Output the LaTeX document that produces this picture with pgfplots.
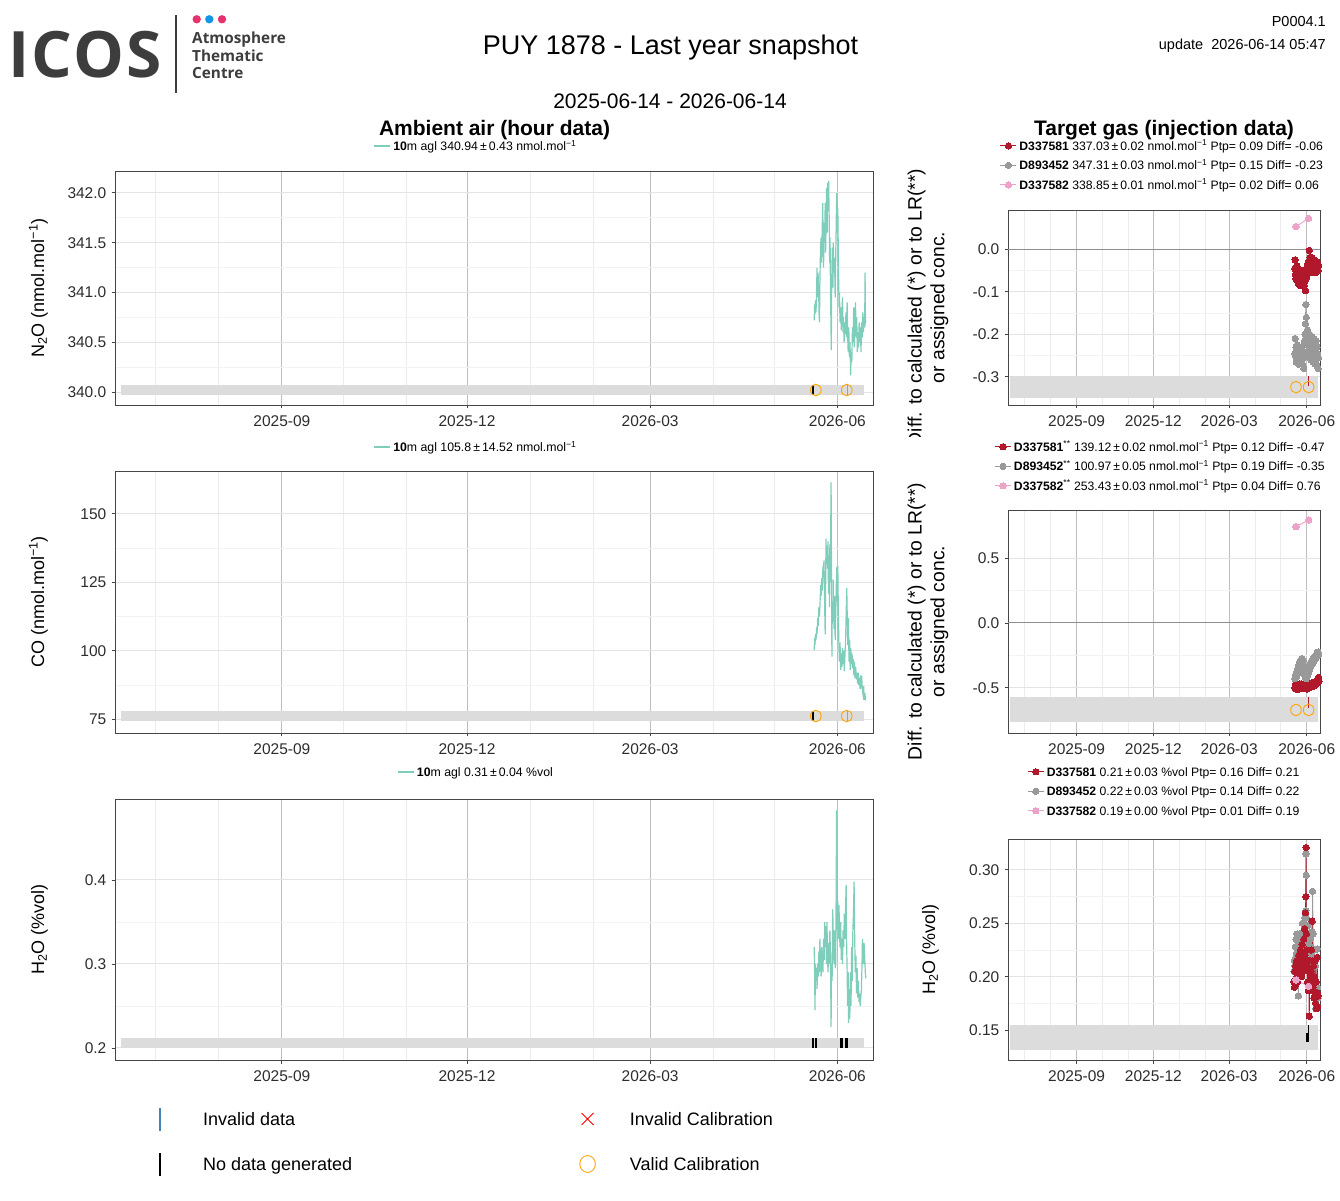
\documentclass[border=0pt]{standalone}
\usepackage{pgfplots}
\pgfplotsset{compat=1.18}
\usepackage{fontspec}
\setmainfont{Liberation Sans}
\newfontfamily\logofont{Open Sans}

\definecolor{teal1}{RGB}{127,205,187}
\definecolor{tred}{RGB}{178,24,43}
\definecolor{tgrey}{RGB}{153,153,153}
\definecolor{tpink}{RGB}{236,162,201}
\definecolor{bandc}{RGB}{220,220,220}
\definecolor{framec}{RGB}{70,70,70}
\definecolor{tickc}{RGB}{45,45,45}
\definecolor{vmaj}{RGB}{190,190,190}
\definecolor{vmin}{RGB}{236,236,236}
\definecolor{hmaj}{RGB}{228,228,228}
\definecolor{hmin}{RGB}{243,243,243}
\definecolor{zeroc}{RGB}{140,140,140}
\definecolor{calorange}{RGB}{255,165,0}
\definecolor{icospink}{RGB}{232,50,110}
\definecolor{icosblue}{RGB}{20,150,230}
\definecolor{logogrey}{RGB}{61,61,61}
\definecolor{steel}{RGB}{70,130,180}
\definecolor{invline}{RGB}{110,180,200}

\pgfplotsset{
 panel/.style={
   scale only axis, anchor=south west,
   axis line style={draw=framec, line width=0.9pt},
   tick align=outside, major tick length=3.5pt, minor tick length=0pt,
   xtick pos=left, ytick pos=left,
   tick style={draw=framec, line width=0.9pt},
   xtick={79,170,260,352}, xticklabels={2025-09,2025-12,2026-03,2026-06},
   minor xtick={17,48,109,140,201,232,291,321},
   minor y tick num=1,
   grid=both,
   major x grid style={draw=vmaj, line width=1pt},
   minor x grid style={draw=vmin, line width=0.7pt},
   major y grid style={draw=hmaj, line width=1pt},
   minor y grid style={draw=hmin, line width=0.7pt},
   scaled ticks=false,
   /pgf/number format/assume math mode=true,
   ticklabel style={font=\fontsize{15.5}{16}\selectfont, text=tickc},
   xticklabel style={anchor=north, inner sep=0pt, text height=11pt, text depth=0pt, yshift=-6.5pt},
   yticklabel style={anchor=east, inner sep=0pt, text height=11pt, text depth=0pt, xshift=-5pt},
   legend cell align=left,
 },
 left panel/.style={panel, width=758pt, xmin=-3, xmax=369.5,
   legend image code/.code={\draw[##1] (0pt,0pt) -- (16pt,0pt);},
   legend style={anchor=center, draw=none, fill=none, inner sep=0pt, outer sep=0pt,
     font=\fontsize{12.3}{13}\selectfont, nodes={inner sep=0pt, text height=8.8pt, text depth=0pt},
     /tikz/every odd column/.style={column sep=2.5pt}}},
 right panel/.style={panel, width=312pt, xmin=-2.5, xmax=367.8,
   legend image code/.code={\draw[mark repeat=2,mark phase=2,##1] plot coordinates {(0pt,0pt) (8pt,0pt) (16pt,0pt)};},
   legend style={anchor=center, draw=none, fill=none, inner sep=0pt, outer sep=0pt, row sep=10.5pt,
     font=\fontsize{12.2}{13}\selectfont, nodes={inner sep=0pt, text height=9pt, text depth=0pt},
     /tikz/every odd column/.style={column sep=2.5pt}}},
 amb/.style={teal1, line width=1.2pt},
 tg/.style={#1, line width=0.9pt, mark=*, mark size=3.2pt, mark options={solid, fill=#1, draw=#1, line width=0pt}},
 cal/.style={forget plot, only marks, mark=o, mark size=5.3pt, calorange, mark options={line width=0.9pt, yscale=1.1}},
}

\begin{document}
\begin{tikzpicture}
\path[use as bounding box] (0pt,0pt) rectangle (1340pt,1200pt);

% ---------- header ----------
\fill[icospink] (196.7pt,1180.7pt) circle (4.2pt);
\fill[icosblue] (209.3pt,1180.7pt) circle (4.2pt);
\fill[icospink] (222pt,1180.7pt) circle (4.2pt);
\draw[logogrey, line width=2pt] (176pt,1185pt) -- (176pt,1107pt);
\node[anchor=base west, inner sep=0pt, text=logogrey, font=\logofont\bfseries\fontsize{64}{64}\selectfont] at (8pt,1122pt) {I\kern1.8pt C\kern1.8pt O\kern1.8pt S};
\node[anchor=north west, inner sep=0pt, text=logogrey, text width=130pt, align=left,
  font=\logofont\bfseries\fontsize{15.3}{17.4}\selectfont] at (192pt,1168.2pt) {Atmosphere\\Thematic\\Centre};

\node[anchor=base, inner sep=0pt, font=\fontsize{27}{27}\selectfont] at (670.5pt,1145.3pt) {PUY 1878 - Last year snapshot};
\node[anchor=base, inner sep=0pt, font=\fontsize{21}{21}\selectfont] at (670pt,1091.5pt) {2025-06-14 - 2026-06-14};
\node[anchor=base east, inner sep=0pt, font=\fontsize{14.5}{15}\selectfont] at (1326pt,1173.8pt) {P0004.1};
\node[anchor=base east, inner sep=0pt, font=\fontsize{14.5}{15}\selectfont] at (1326pt,1150.8pt) {update\ \ 2026-06-14 05:47};

\node[anchor=base, inner sep=0pt, font=\bfseries\fontsize{21}{21}\selectfont] at (494.5pt,1064.5pt) {Ambient air (hour data)};
\node[anchor=base, inner sep=0pt, font=\bfseries\fontsize{21}{21}\selectfont] at (1164pt,1064.5pt) {Target gas (injection data)};

% ---------- axis titles ----------
\node[rotate=90, anchor=base, inner sep=0pt, font=\fontsize{18}{20}\selectfont] at (44pt,912pt) {N\textsubscript{2}O (nmol.mol\textsuperscript{−1})};
\node[rotate=90, anchor=base, inner sep=0pt, font=\fontsize{18}{20}\selectfont] at (44pt,598pt) {CO (nmol.mol\textsuperscript{−1})};
\node[rotate=90, anchor=base, inner sep=0pt, font=\fontsize{18}{20}\selectfont] at (44pt,270.5pt) {H\textsubscript{2}O (\%vol)};
\begin{scope}
\clip (880pt,763pt) rectangle (970pt,1100pt);
\node[rotate=90, anchor=base, inner sep=0pt, font=\fontsize{19.3}{20}\selectfont] at (921.7pt,892.5pt) {Diff. to calculated (*) or to LR(**)};
\end{scope}
\node[rotate=90, anchor=base, inner sep=0pt, font=\fontsize{19.3}{20}\selectfont] at (944.3pt,892.5pt) {or assigned conc.};
\node[rotate=90, anchor=base, inner sep=0pt, font=\fontsize{19.3}{20}\selectfont] at (921.7pt,578.5pt) {Diff. to calculated (*) or to LR(**)};
\node[rotate=90, anchor=base, inner sep=0pt, font=\fontsize{19.3}{20}\selectfont] at (944.3pt,578.5pt) {or assigned conc.};
\node[rotate=90, anchor=base, inner sep=0pt, font=\fontsize{18}{20}\selectfont] at (935pt,250.5pt) {H\textsubscript{2}O (\%vol)};

% ================= LEFT N2O =================
\begin{axis}[left panel, at={(115pt,795pt)}, height=234pt, ymin=339.87, ymax=342.22,
  ytick={340,340.5,341,341.5,342},
  yticklabel style={/pgf/number format/.cd, fixed, fixed zerofill, precision=1},
  legend style={at={(0.475,1.1068)}}]
\addplot[forget plot, bandc, line width=10pt] coordinates {(0,340.02) (365,340.02)};
\addplot[amb] coordinates {
(340.6,340.72)(340.8,340.88)(341.0,340.78)(341.2,340.92)(341.5,340.80)(341.8,341.05)(342.0,341.25)(342.2,340.95)
(342.5,341.20)(342.8,341.00)(343.0,340.78)(343.2,340.70)(343.4,341.10)(343.7,341.45)(344.0,341.55)(344.2,341.30)
(344.5,341.60)(344.8,341.90)(345.0,341.45)(345.2,341.25)(345.5,341.70)(345.8,341.55)(346.0,341.90)(346.2,341.40)
(346.5,341.75)(346.7,342.05)(347.0,341.60)(347.2,342.10)(347.5,341.85)(347.7,342.12)(348.0,341.70)(348.2,341.30)
(348.4,341.55)(348.6,341.00)(348.8,340.75)(349.0,340.42)(349.2,341.10)(349.5,341.45)(349.8,341.05)(350.0,341.50)
(350.3,341.20)(350.6,341.35)(350.9,340.95)(351.2,341.40)(351.5,341.80)(351.7,342.00)(352.0,341.60)(352.2,341.85)
(352.5,341.30)(352.8,340.85)(353.0,341.00)(353.3,340.70)(353.6,340.85)(353.9,340.62)(354.2,340.80)(354.5,340.95)
(354.8,340.60)(355.0,340.75)(355.3,340.50)(355.6,340.70)(355.9,340.58)(356.2,340.80)(356.5,340.55)(356.8,340.90)
(357.0,340.60)(357.3,340.40)(357.6,340.65)(357.9,340.35)(358.2,340.50)(358.5,340.17)(358.8,340.40)(359.1,340.30)
(359.4,340.65)(359.7,340.50)(360.0,340.85)(360.3,340.45)(360.6,340.70)(360.9,340.90)(361.2,340.55)(361.5,340.75)
(361.8,340.40)(362.1,340.60)(362.4,340.45)(362.7,340.70)(363.0,340.50)(363.3,340.65)(363.6,340.40)(363.9,340.70)
(364.2,340.55)(364.5,340.80)(364.8,340.60)(365.1,340.75)(365.4,340.65)(365.6,341.20)(365.8,340.70)(366.0,340.72)};
\addlegendentry{\textbf{10}m agl 340.94\,±\,0.43 nmol.mol\textsuperscript{−1}}
\addplot[forget plot, black, line width=2.5pt] coordinates {(339.9,339.97) (339.9,340.07)};
\addplot[forget plot, invline, line width=0.8pt] coordinates {(357,339.97) (357,340.07)};
\addplot[cal] coordinates {(341.4,340.02) (356.6,340.02)};
\end{axis}

% ================= LEFT CO =================
\begin{axis}[left panel, at={(115pt,467pt)}, height=262pt, ymin=69.9, ymax=165.7,
  ytick={75,100,125,150},
  legend style={at={(0.475,1.0916)}}]
\addplot[forget plot, bandc, line width=10pt] coordinates {(0,76.1) (365,76.1)};
\addplot[amb] coordinates {
(340.6,100.2)(340.8,104.5)(341.0,102.0)(341.2,106.0)(341.5,104.0)(341.8,108.5)(342.0,106.0)(342.3,112.0)
(342.6,109.0)(342.9,116.0)(343.2,112.5)(343.5,118.0)(343.8,124.0)(344.0,120.0)(344.3,126.5)(344.6,122.0)
(344.9,131.0)(345.1,128.0)(345.4,133.0)(345.6,124.0)(345.8,114.0)(346.0,106.0)(346.2,122.0)(346.4,141.0)
(346.6,134.0)(346.9,138.5)(347.1,130.0)(347.4,140.0)(347.6,121.0)(347.9,132.0)(348.1,116.0)(348.3,139.0)
(348.5,125.0)(348.7,142.0)(348.9,161.5)(349.1,128.0)(349.3,97.8)(349.5,118.0)(349.8,112.0)(350.0,126.0)
(350.3,108.0)(350.6,120.0)(350.9,104.0)(351.2,114.0)(351.5,125.0)(351.7,130.5)(352.0,118.0)(352.2,131.0)
(352.5,112.0)(352.8,100.0)(353.0,96.0)(353.3,103.0)(353.6,93.0)(353.9,99.0)(354.2,94.0)(354.5,101.0)
(354.8,95.0)(355.1,100.0)(355.4,92.5)(355.7,98.0)(356.0,103.0)(356.3,113.0)(356.6,123.0)(356.9,110.0)
(357.1,102.0)(357.4,112.0)(357.7,96.0)(358.0,104.0)(358.3,93.0)(358.6,101.0)(358.9,95.0)(359.2,99.0)
(359.5,93.5)(359.8,97.0)(360.1,91.0)(360.4,96.0)(360.7,90.0)(361.0,94.0)(361.3,89.5)(361.6,92.0)
(361.9,88.0)(362.2,92.0)(362.5,87.5)(362.8,90.0)(363.1,86.0)(363.4,91.0)(363.7,88.0)(364.0,89.5)
(364.3,85.5)(364.6,84.0)(364.9,87.0)(365.2,82.0)(365.5,84.5)(365.8,82.5)(366.0,83.0)};
\addlegendentry{\textbf{10}m agl 105.8\,±\,14.52 nmol.mol\textsuperscript{−1}}
\addplot[forget plot, black, line width=2.5pt] coordinates {(339.9,74.3) (339.9,77.9)};
\addplot[forget plot, invline, line width=0.8pt] coordinates {(357,74.3) (357,77.9)};
\addplot[cal] coordinates {(341.4,76.1) (356.6,76.1)};
\end{axis}

% ================= LEFT H2O =================
\begin{axis}[left panel, at={(115pt,140pt)}, height=261pt, ymin=0.1857, ymax=0.4964,
  ytick={0.2,0.3,0.4},
  yticklabel style={/pgf/number format/.cd, fixed, fixed zerofill, precision=1},
  legend style={at={(0.475,1.1034)}}]
\addplot[forget plot, bandc, line width=10pt] coordinates {(0,0.206) (365,0.206)};
\addplot[amb] coordinates {
(340.6,0.320)(340.8,0.290)(341.0,0.245)(341.2,0.300)(341.5,0.280)(341.8,0.295)(342.0,0.270)(342.3,0.300)
(342.6,0.285)(342.9,0.315)(343.1,0.290)(343.4,0.330)(343.7,0.300)(344.0,0.285)(344.3,0.320)(344.6,0.300)
(344.9,0.290)(345.2,0.330)(345.5,0.305)(345.8,0.350)(346.0,0.320)(346.3,0.345)(346.6,0.300)(346.9,0.350)
(347.1,0.310)(347.4,0.290)(347.7,0.325)(348.0,0.300)(348.3,0.340)(348.6,0.310)(348.9,0.225)(349.1,0.300)
(349.4,0.280)(349.7,0.365)(350.0,0.330)(350.3,0.300)(350.6,0.340)(350.9,0.295)(351.2,0.300)(351.4,0.390)
(351.6,0.483)(351.8,0.420)(352.0,0.340)(352.2,0.375)(352.5,0.330)(352.8,0.370)(353.0,0.340)(353.3,0.320)
(353.6,0.350)(353.9,0.305)(354.2,0.330)(354.5,0.300)(354.8,0.340)(355.1,0.320)(355.4,0.360)(355.7,0.330)
(356.0,0.365)(356.3,0.394)(356.5,0.330)(356.8,0.290)(357.0,0.250)(357.3,0.290)(357.5,0.230)(357.8,0.270)
(358.1,0.235)(358.4,0.290)(358.7,0.250)(359.0,0.320)(359.3,0.280)(359.6,0.340)(359.9,0.360)(360.2,0.398)
(360.5,0.330)(360.8,0.290)(361.1,0.310)(361.4,0.265)(361.7,0.295)(362.0,0.260)(362.3,0.280)(362.6,0.255)
(362.9,0.265)(363.2,0.250)(363.5,0.260)(363.8,0.270)(364.1,0.300)(364.3,0.330)(364.5,0.320)(364.8,0.300)
(365.1,0.325)(365.4,0.310)(365.7,0.290)(366.0,0.283)};
\addlegendentry{\textbf{10}m agl 0.31\,±\,0.04 \%vol}
\addplot[forget plot, black, line width=2.2pt] coordinates {(340.1,0.2) (340.1,0.212)};
\addplot[forget plot, black, line width=2.2pt] coordinates {(341.6,0.2) (341.6,0.212)};
\addplot[forget plot, black, line width=2.8pt] coordinates {(354.0,0.2) (354.0,0.212)};
\addplot[forget plot, black, line width=2.8pt] coordinates {(356.5,0.2) (356.5,0.212)};
\end{axis}

% ================= RIGHT N2O =================
\begin{axis}[right panel, at={(1008pt,795pt)}, height=195pt, ymin=-0.366, ymax=0.092,
  ytick={-0.3,-0.2,-0.1,0},
  yticklabel style={/pgf/number format/.cd, fixed, fixed zerofill, precision=1},
  legend style={at={(0.492,1.229)}}]
\addplot[forget plot, bandc, line width=22pt] coordinates {(0,-0.324) (365,-0.324)};
\addplot[forget plot, zeroc, line width=1pt] coordinates {(-10,0) (380,0)};
\addplot[tg=tred] coordinates {
(338.0,-0.045)(338.3,-0.025)(338.6,-0.060)(339.0,-0.050)(339.4,-0.070)(339.8,-0.055)(340.2,-0.065)(340.6,-0.040)
(341.0,-0.075)(341.4,-0.060)(341.8,-0.050)(342.2,-0.080)(342.6,-0.065)(343.0,-0.055)(343.4,-0.070)(343.8,-0.085)
(344.2,-0.060)(344.6,-0.075)(345.0,-0.050)(345.4,-0.065)(345.8,-0.080)(346.2,-0.055)(346.6,-0.070)(347.0,-0.060)
(347.5,-0.075)(348.0,-0.050)(348.5,-0.065)(349.0,-0.085)(349.5,-0.060)(350.0,-0.075)(350.5,-0.097)(351.0,-0.070)
(351.5,-0.055)(352.0,-0.045)(352.5,-0.060)(353.0,-0.035)(353.5,-0.050)(354.0,-0.030)(354.5,-0.045)(355.0,-0.003)
(355.5,-0.030)(356.0,-0.020)(356.5,-0.040)(357.0,-0.025)(357.5,-0.050)(358.0,-0.035)(358.5,-0.020)(359.0,-0.045)
(359.5,-0.030)(360.0,-0.055)(360.5,-0.035)(361.0,-0.025)(361.5,-0.045)(362.0,-0.030)(362.5,-0.040)(363.0,-0.055)
(363.5,-0.035)(364.0,-0.045)(364.5,-0.030)(365.0,-0.040)(365.5,-0.050)(366.0,-0.038)};
\addlegendentry{\textbf{D337581} 337.03\,±\,0.02 nmol.mol\textsuperscript{−1} Ptp= 0.09 Diff= -0.06}
\addplot[tg=tgrey] coordinates {
(338.0,-0.245)(338.4,-0.210)(338.8,-0.250)(339.2,-0.230)(339.6,-0.265)(340.0,-0.240)(340.5,-0.255)(341.0,-0.225)
(341.5,-0.260)(342.0,-0.245)(342.5,-0.270)(343.0,-0.235)(343.5,-0.255)(344.0,-0.240)(344.5,-0.265)(345.0,-0.250)
(345.5,-0.230)(346.0,-0.260)(346.5,-0.245)(347.0,-0.270)(347.5,-0.240)(348.0,-0.255)(348.5,-0.280)(349.0,-0.250)
(349.5,-0.215)(350.0,-0.200)(350.5,-0.175)(351.0,-0.130)(351.5,-0.160)(352.0,-0.200)(352.5,-0.225)(353.0,-0.190)
(353.5,-0.240)(354.0,-0.210)(354.5,-0.250)(355.0,-0.225)(355.5,-0.200)(356.0,-0.240)(356.5,-0.215)(357.0,-0.260)
(357.5,-0.230)(358.0,-0.205)(358.5,-0.245)(359.0,-0.220)(359.5,-0.265)(360.0,-0.235)(360.5,-0.210)(361.0,-0.250)
(361.5,-0.225)(362.0,-0.270)(362.5,-0.240)(363.0,-0.215)(363.5,-0.255)(364.0,-0.230)(364.5,-0.275)(365.0,-0.245)
(365.5,-0.280)(366.0,-0.255)};
\addlegendentry{\textbf{D893452} 347.31\,±\,0.03 nmol.mol\textsuperscript{−1} Ptp= 0.15 Diff= -0.23}
\addplot[tg=tpink] coordinates {(339.3,0.053) (354.3,0.0725)};
\addlegendentry{\textbf{D337582} 338.85\,±\,0.01 nmol.mol\textsuperscript{−1} Ptp= 0.02 Diff= 0.06}
\addplot[forget plot, tred, line width=1.2pt] coordinates {(353.8,-0.298) (353.8,-0.322)};
\addplot[cal] coordinates {(339.3,-0.324) (354.3,-0.324)};
\end{axis}

% ================= RIGHT CO =================
\begin{axis}[right panel, at={(1008pt,467pt)}, height=223pt, ymin=-0.85, ymax=0.873,
  ytick={-0.5,0,0.5},
  yticklabel style={/pgf/number format/.cd, fixed, fixed zerofill, precision=1},
  legend style={at={(0.486,1.196)}}]
\addplot[forget plot, bandc, line width=25pt] coordinates {(0,-0.672) (365,-0.672)};
\addplot[forget plot, zeroc, line width=1pt] coordinates {(-10,0) (380,0)};
\addplot[tg=tred] coordinates {
(338.0,-0.500)(338.4,-0.485)(338.8,-0.510)(339.2,-0.495)(339.6,-0.480)(340.0,-0.505)(340.5,-0.490)(341.0,-0.515)
(341.5,-0.495)(342.0,-0.480)(342.5,-0.500)(343.0,-0.490)(343.5,-0.470)(344.0,-0.495)(344.5,-0.505)(345.0,-0.485)
(345.5,-0.470)(346.0,-0.495)(346.5,-0.480)(347.0,-0.500)(347.5,-0.475)(348.0,-0.490)(348.5,-0.505)(349.0,-0.485)
(349.5,-0.470)(350.0,-0.495)(350.5,-0.480)(351.0,-0.500)(351.5,-0.490)(352.0,-0.510)(352.5,-0.485)(353.0,-0.495)
(353.5,-0.475)(354.0,-0.500)(354.5,-0.485)(355.0,-0.470)(355.5,-0.490)(356.0,-0.475)(356.5,-0.495)(357.0,-0.480)
(357.5,-0.465)(358.0,-0.485)(358.5,-0.470)(359.0,-0.490)(359.5,-0.475)(360.0,-0.460)(360.5,-0.480)(361.0,-0.470)
(361.5,-0.485)(362.0,-0.465)(362.5,-0.475)(363.0,-0.455)(363.5,-0.470)(364.0,-0.450)(364.5,-0.465)(365.0,-0.440)
(365.5,-0.460)(366.0,-0.420)(366.5,-0.450)};
\addlegendentry{\textbf{D337581}\textsuperscript{**} 139.12\,±\,0.02 nmol.mol\textsuperscript{−1} Ptp= 0.12 Diff= -0.47}
\addplot[tg=tgrey] coordinates {
(338.0,-0.430)(338.5,-0.410)(339.0,-0.395)(339.5,-0.420)(340.0,-0.380)(340.5,-0.400)(341.0,-0.360)(341.5,-0.385)
(342.0,-0.340)(342.5,-0.365)(343.0,-0.320)(343.5,-0.345)(344.0,-0.300)(344.5,-0.330)(345.0,-0.290)(345.5,-0.310)
(346.0,-0.275)(346.5,-0.300)(347.0,-0.280)(347.5,-0.320)(348.0,-0.290)(348.5,-0.340)(349.0,-0.370)(349.5,-0.400)
(350.0,-0.380)(350.5,-0.420)(351.0,-0.395)(351.5,-0.430)(352.0,-0.405)(352.5,-0.380)(353.0,-0.410)(353.5,-0.370)
(354.0,-0.390)(354.5,-0.350)(355.0,-0.370)(355.5,-0.330)(356.0,-0.350)(356.5,-0.310)(357.0,-0.335)(357.5,-0.300)
(358.0,-0.320)(358.5,-0.290)(359.0,-0.310)(359.5,-0.275)(360.0,-0.300)(360.5,-0.270)(361.0,-0.290)(361.5,-0.260)
(362.0,-0.280)(362.5,-0.250)(363.0,-0.270)(363.5,-0.240)(364.0,-0.260)(364.5,-0.230)(365.0,-0.250)(365.5,-0.225)
(366.0,-0.245)};
\addlegendentry{\textbf{D893452}\textsuperscript{**} 100.97\,±\,0.05 nmol.mol\textsuperscript{−1} Ptp= 0.19 Diff= -0.35}
\addplot[tg=tpink] coordinates {(339.3,0.744) (354.3,0.796)};
\addlegendentry{\textbf{D337582}\textsuperscript{**} 253.43\,±\,0.03 nmol.mol\textsuperscript{−1} Ptp= 0.04 Diff= 0.76}
\addplot[forget plot, tred, line width=1.2pt] coordinates {(353.8,-0.574) (353.8,-0.655)};
\addplot[cal] coordinates {(339.3,-0.672) (354.3,-0.672)};
\end{axis}

% ================= RIGHT H2O =================
\begin{axis}[right panel, at={(1008pt,140pt)}, height=221pt, ymin=0.1219, ymax=0.329,
  ytick={0.15,0.2,0.25,0.3},
  yticklabel style={/pgf/number format/.cd, fixed, fixed zerofill, precision=2},
  legend style={at={(0.498,1.216)}}]
\addlegendimage{tg=tred}
\addlegendentry{\textbf{D337581} 0.21\,±\,0.03 \%vol Ptp= 0.16 Diff= 0.21}
\addlegendimage{tg=tgrey}
\addlegendentry{\textbf{D893452} 0.22\,±\,0.03 \%vol Ptp= 0.14 Diff= 0.22}
\addlegendimage{tg=tpink}
\addlegendentry{\textbf{D337582} 0.19\,±\,0.00 \%vol Ptp= 0.01 Diff= 0.19}
\addplot[forget plot, bandc, line width=25pt] coordinates {(0,0.143) (365,0.143)};
\addplot[forget plot, tg=tgrey] coordinates {
(337.0,0.205)(337.5,0.215)(338.0,0.210)(338.5,0.228)(339.0,0.218)(339.5,0.235)(340.0,0.222)(340.5,0.240)
(341.0,0.212)(341.5,0.230)(342.0,0.182)(342.5,0.225)(343.0,0.240)(343.5,0.215)(344.0,0.235)(344.5,0.205)
(345.0,0.228)(345.5,0.240)(346.0,0.218)(346.5,0.235)(347.0,0.250)(347.5,0.225)(348.0,0.242)(348.5,0.230)
(349.0,0.248)(349.5,0.235)(350.0,0.255)(350.5,0.240)(351.0,0.262)(351.2,0.315)(351.4,0.295)(351.7,0.255)
(352.0,0.240)(352.5,0.225)(353.0,0.248)(353.5,0.230)(354.0,0.240)(354.5,0.212)(355.0,0.225)(355.5,0.195)
(356.0,0.215)(356.5,0.235)(357.0,0.205)(357.5,0.228)(358.0,0.242)(358.5,0.220)(359.0,0.280)(359.5,0.240)
(360.0,0.215)(360.5,0.225)(361.0,0.200)(361.5,0.215)(362.0,0.190)(362.5,0.210)(363.0,0.170)(363.5,0.195)
(364.0,0.185)(364.5,0.226)(365.0,0.190)(365.5,0.180)};
\addplot[forget plot, tg=tred] coordinates {
(337.0,0.195)(337.5,0.190)(338.0,0.205)(338.5,0.192)(339.0,0.210)(339.5,0.198)(340.0,0.215)(340.5,0.202)
(341.0,0.195)(341.5,0.212)(342.0,0.205)(342.5,0.220)(343.0,0.200)(343.5,0.215)(344.0,0.208)(344.5,0.225)
(345.0,0.205)(345.5,0.218)(346.0,0.200)(346.5,0.230)(347.0,0.210)(347.5,0.222)(348.0,0.205)(348.5,0.235)
(349.0,0.215)(349.5,0.245)(350.0,0.220)(350.5,0.260)(351.0,0.275)(351.2,0.321)(351.5,0.240)(352.0,0.225)
(352.5,0.210)(353.0,0.195)(353.5,0.215)(354.0,0.187)(354.5,0.205)(355.0,0.163)(355.5,0.195)(356.0,0.215)
(356.5,0.190)(357.0,0.205)(357.5,0.225)(358.0,0.200)(358.5,0.252)(359.0,0.215)(359.5,0.190)(360.0,0.210)
(360.5,0.180)(361.0,0.200)(361.5,0.185)(362.0,0.215)(362.5,0.175)(363.0,0.195)(363.5,0.170)(364.0,0.185)
(364.5,0.218)(365.0,0.172)(365.5,0.182)};
\addplot[forget plot, tg=tpink] coordinates {(339.3,0.197) (354.3,0.191)};
\addplot[forget plot, black, line width=2.5pt] coordinates {(352.6,0.139) (352.6,0.147)};
\addplot[forget plot, black, line width=1pt] coordinates {(353.8,0.139) (353.8,0.1547)};
\end{axis}

% ================= bottom legend =================
\begin{axis}[hide axis, scale only axis, width=1340pt, height=1200pt, at={(0pt,0pt)}, anchor=south west,
  xmin=0, xmax=1, ymin=0, ymax=1, legend columns=2, legend cell align=left,
  legend style={at={(0.11892,0.04875)}, anchor=west, draw=none, fill=none, inner sep=0pt, outer sep=0pt,
    font=\fontsize{18}{20}\selectfont, nodes={inner sep=0pt, text height=13pt, text depth=0pt},
    row sep=20.7pt,
    /tikz/column 1/.style={column sep=42.5pt},
    /tikz/column 2/.style={column sep=227.5pt},
    /tikz/column 3/.style={column sep=34.5pt}}]
\addlegendimage{legend image code/.code={\draw[steel, line width=1.3pt] (0pt,-11.5pt) -- (0pt,11.5pt);}}
\addlegendentry{Invalid data}
\addlegendimage{legend image code/.code={\draw[red, line width=0.9pt] plot[mark=x, mark size=8.5pt] coordinates {(0pt,0pt)};}}
\addlegendentry{Invalid Calibration}
\addlegendimage{legend image code/.code={\draw[black, line width=1.3pt] (0pt,-11.5pt) -- (0pt,11.5pt);}}
\addlegendentry{No data generated}
\addlegendimage{legend image code/.code={\draw[calorange, line width=0.9pt] plot[mark=o, mark size=7.8pt, mark options={yscale=1.08}] coordinates {(0pt,0pt)};}}
\addlegendentry{Valid Calibration}
\end{axis}
\end{tikzpicture}
\end{document}
